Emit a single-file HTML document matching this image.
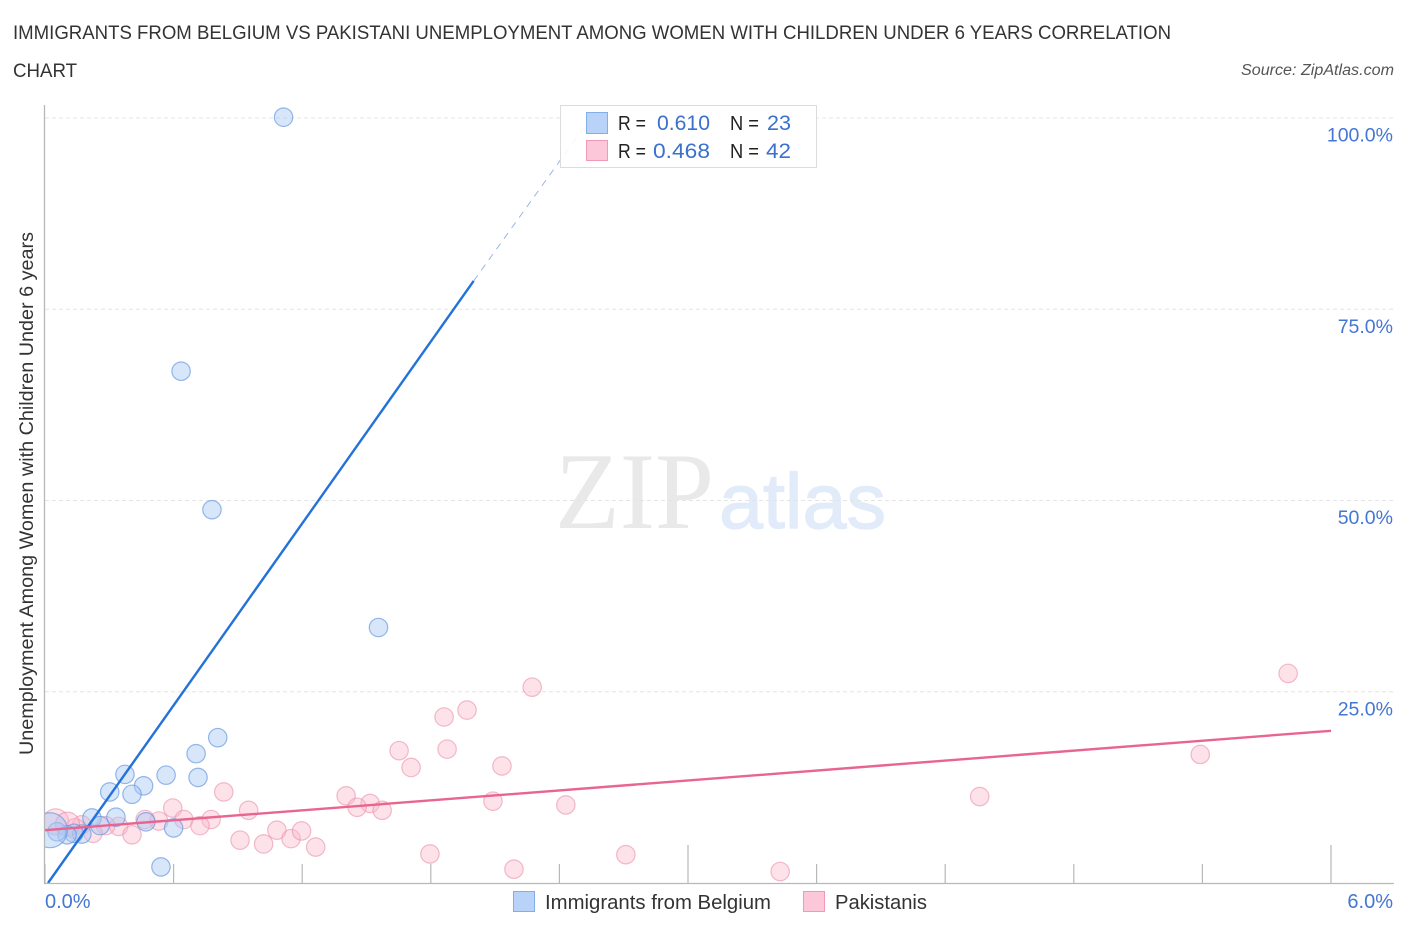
<!DOCTYPE html>
<html lang="en">
<head>
<meta charset="utf-8">
<title>Immigrants from Belgium vs Pakistani Unemployment Correlation Chart</title>
<style>
html,body{margin:0;padding:0;background:#fff;width:1406px;height:930px;overflow:hidden}
svg{display:block}
text{font-family:"Liberation Sans",sans-serif}
</style>
</head>
<body>
<svg id="chart" xmlns="http://www.w3.org/2000/svg" width="1406" height="930" viewBox="0 0 1406 930">
  <defs>
    <clipPath id="plot-clip"><rect x="45" y="100" width="1350" height="783"/></clipPath>
  </defs>
  <rect width="1406" height="930" fill="#fff"/>

  <g>
    <text x="555" y="528" font-size="109" textLength="159" lengthAdjust="spacingAndGlyphs" fill="#e9e9e9" style="font-family:'Liberation Serif',serif">ZIP</text>
    <text x="719" y="528" font-size="78" textLength="167" lengthAdjust="spacingAndGlyphs" fill="#e2ebf9" stroke="#e2ebf9" stroke-width="1.2" style="font-family:'Liberation Sans',sans-serif">atlas</text>
  </g>

  <g id="grid"></g>
  <g id="marks" clip-path="url(#plot-clip)"></g>
  <g id="trends"></g>
  <g id="axes"></g>

  <text x="13" y="39" font-size="19.5" fill="#333" textLength="1158" lengthAdjust="spacingAndGlyphs">IMMIGRANTS FROM BELGIUM VS PAKISTANI UNEMPLOYMENT AMONG WOMEN WITH CHILDREN UNDER 6 YEARS CORRELATION</text>
  <text x="13" y="77" font-size="19.5" fill="#333" textLength="64" lengthAdjust="spacingAndGlyphs">CHART</text>
  <text x="1241" y="75" font-size="15.5" font-style="italic" fill="#555" textLength="153" lengthAdjust="spacingAndGlyphs">Source: ZipAtlas.com</text>

  <text transform="translate(33,755) rotate(-90)" font-size="19" fill="#333" textLength="523" lengthAdjust="spacingAndGlyphs">Unemployment Among Women with Children Under 6 years</text>

  <g>
    <rect x="560.5" y="105.5" width="256" height="62" fill="#fff" fill-opacity="0.88" stroke="#dcdcdc" stroke-width="1"/>
    <rect x="586.5" y="112.5" width="21" height="21" fill="#b9d3f8" stroke="#84aee8" stroke-width="1"/>
    <rect x="586.5" y="140.5" width="21" height="20" fill="#fcc8d9" stroke="#f09ab5" stroke-width="1"/>
    <text x="618" y="130" font-size="20" fill="#222" textLength="28" lengthAdjust="spacingAndGlyphs">R =</text>
    <text x="657" y="130" font-size="21" fill="#3a70cf" textLength="53" lengthAdjust="spacingAndGlyphs">0.610</text>
    <text x="730" y="130" font-size="20" fill="#222" textLength="29" lengthAdjust="spacingAndGlyphs">N =</text>
    <text x="767" y="130" font-size="21" fill="#3a70cf" textLength="24" lengthAdjust="spacingAndGlyphs">23</text>
    <text x="618" y="158" font-size="20" fill="#222" textLength="28" lengthAdjust="spacingAndGlyphs">R =</text>
    <text x="653" y="158" font-size="21" fill="#3a70cf" textLength="57" lengthAdjust="spacingAndGlyphs">0.468</text>
    <text x="730" y="158" font-size="20" fill="#222" textLength="29" lengthAdjust="spacingAndGlyphs">N =</text>
    <text x="766" y="158" font-size="21" fill="#3a70cf" textLength="25" lengthAdjust="spacingAndGlyphs">42</text>
  </g>

  <g>
    <rect x="513.5" y="891.5" width="21" height="20" fill="#b9d3f8" stroke="#84aee8" stroke-width="1"/>
    <text x="545" y="909" font-size="20" fill="#333" textLength="226" lengthAdjust="spacingAndGlyphs">Immigrants from Belgium</text>
    <rect x="803.5" y="891.5" width="21" height="20" fill="#fcc8d9" stroke="#f09ab5" stroke-width="1"/>
    <text x="835" y="909" font-size="20" fill="#333" textLength="92" lengthAdjust="spacingAndGlyphs">Pakistanis</text>
  </g>
</svg>

<script>
// Category / tick data
const xTickValues = [0, 0.6, 1.2, 1.8, 2.4, 3.0, 3.6, 4.2, 4.8, 5.4, 6.0];
const xMajorTicks = [3.0, 6.0];
const xTickLabels = ["0.0%", "6.0%"];
const xLabelValues = [0, 6];
const yGridValues = [25, 50, 75, 100];
const yTickLabels = ["25.0%", "50.0%", "75.0%", "100.0%"];

// Series: Immigrants from Belgium
const belgiumX = [1.113, 0.635, 0.779, 1.556, 0.806, 0.705, 0.714, 0.565, 0.373, 0.460, 0.302, 0.406, 0.219, 0.331, 0.471, 0.600, 0.541, 0.257, 0.172, 0.135, 0.103, 0.056, 0.023];
const belgiumY = [100.1, 66.9, 48.8, 33.4, 19.0, 16.9, 13.8, 14.1, 14.2, 12.7, 11.9, 11.6, 8.5, 8.6, 8.0, 7.2, 2.1, 7.5, 6.4, 6.5, 6.3, 6.7, 6.9];
const belgiumWeight = [1, 1, 1, 1, 1, 1, 1, 1, 1, 1, 1, 1, 1, 1, 1, 1, 1, 1, 1, 1, 1, 1, 3.6];

// Series: Pakistanis
const pakistaniX = [2.273, 5.800, 1.969, 1.862, 1.876, 1.652, 2.132, 1.708, 2.090, 2.430, 4.361, 5.390, 1.796, 2.188, 2.710, 3.430, 0.834, 0.596, 0.950, 1.405, 1.517, 1.456, 1.573, 0.648, 0.775, 0.531, 0.467, 0.723, 0.344, 0.406, 0.283, 0.224, 0.171, 0.140, 0.910, 1.020, 1.082, 1.148, 1.197, 1.263, 0.050, 0.105];
const pakistaniY = [25.6, 27.4, 22.6, 21.7, 17.5, 17.3, 15.3, 15.1, 10.7, 10.2, 11.3, 16.8, 3.8, 1.8, 3.7, 1.5, 11.9, 9.8, 9.5, 11.4, 10.4, 9.9, 9.5, 8.3, 8.3, 8.1, 8.3, 7.5, 7.4, 6.3, 7.5, 6.5, 7.6, 7.1, 5.6, 5.1, 6.9, 5.8, 6.8, 4.7, 8.0, 7.7];
const pakistaniWeight = [1, 1, 1, 1, 1, 1, 1, 1, 1, 1, 1, 1, 1, 1, 1, 1, 1, 1, 1, 1, 1, 1, 1, 1, 1, 1, 1, 1, 1, 1, 1, 1, 1, 1.2, 1, 1, 1, 1, 1, 1, 2.0, 1.7];

// Fitted trends, as [x, y] data endpoints
const belgiumTrendX = [0.014, 2.0];
const belgiumTrendY = [0, 78.7];
const belgiumDashX = [2.0, 2.52];
const belgiumDashY = [78.7, 99];
const pakistaniTrendX = [0, 6];
const pakistaniTrendY = [6.9, 19.9];

const SVG_NS = "http://www.w3.org/2000/svg";
const xScale = function (v) { return 45 + v * (1331 - 45) / 6; };
const yScale = function (v) { return 883 - v * (883 - 118) / 100; };
const rScale = function (w) { return 9.2 * Math.sqrt(w); };

function make(tag, parentId, props) {
  const el = document.createElementNS(SVG_NS, tag);
  Object.keys(props).forEach(function (k) { el.setAttribute(k, props[k]); });
  document.getElementById(parentId).appendChild(el);
  return el;
}

yGridValues.forEach(function (v, i) {
  const line = make("line", "grid", {
    x1: 45, x2: 1393, y1: yScale(v), y2: yScale(v),
    stroke: "#e4e4e4", "stroke-width": 1, "stroke-dasharray": "4 3"
  });
  
  
  const label = make("text", "axes", {
    x: 1393, y: yScale(v) + 23.5, "text-anchor": "end", "font-size": 19.5, fill: "#4476d3"
  });
  label.textContent = yTickLabels[i];
  
  
});

const leftAxis = make("line", "axes", { x1: 44.5, x2: 44.5, y1: 105, y2: 884, stroke: "#b8b8b8", "stroke-width": 1.3 });


const bottomAxis = make("line", "axes", { x1: 44, x2: 1394, y1: 883.5, y2: 883.5, stroke: "#b8b8b8", "stroke-width": 1.3 });



xTickValues.forEach(function (v) {
  const isMajor = xMajorTicks.indexOf(v) >= 0;
  const tick = make("line", "axes", {
    x1: xScale(v), x2: xScale(v), y1: isMajor ? 845 : 864, y2: 883,
    stroke: "#b8b8b8", "stroke-width": 1.2
  });
  
  
});

xLabelValues.forEach(function (v, i) {
  const label = make("text", "axes", {
    x: i === 0 ? 45 : 1393, y: 908, "text-anchor": i === 0 ? "start" : "end",
    "font-size": 20, fill: "#4476d3"
  });
  label.textContent = xTickLabels[i];
  
  
});

pakistaniX.forEach(function (v, i) {
  const dot = make("circle", "marks", {
    cx: xScale(v), cy: yScale(pakistaniY[i]), r: rScale(pakistaniWeight[i]),
    fill: "#f9b6cb", "fill-opacity": 0.4, stroke: "#ea8fac", "stroke-opacity": 0.6, "stroke-width": 1.2
  });
  
  
});

belgiumX.forEach(function (v, i) {
  const dot = make("circle", "marks", {
    cx: xScale(v), cy: yScale(belgiumY[i]), r: rScale(belgiumWeight[i]),
    fill: "#a9c8f3", "fill-opacity": 0.45, stroke: "#5f94de", "stroke-opacity": 0.65, "stroke-width": 1.2
  });
  
  
});

const belgiumDash = make("line", "trends", {
  x1: xScale(belgiumDashX[0]), y1: yScale(belgiumDashY[0]),
  x2: xScale(belgiumDashX[1]), y2: yScale(belgiumDashY[1]),
  stroke: "#9bb3e4", "stroke-width": 1, "stroke-dasharray": "7 6"
});



const belgiumTrend = make("line", "trends", {
  x1: xScale(belgiumTrendX[0]), y1: yScale(belgiumTrendY[0]),
  x2: xScale(belgiumTrendX[1]), y2: yScale(belgiumTrendY[1]),
  stroke: "#2272d9", "stroke-width": 2.4
});



const pakistaniTrend = make("line", "trends", {
  x1: xScale(pakistaniTrendX[0]), y1: yScale(pakistaniTrendY[0]),
  x2: xScale(pakistaniTrendX[1]), y2: yScale(pakistaniTrendY[1]),
  stroke: "#e8658f", "stroke-width": 2.4
});


</script>
</body>
</html>
